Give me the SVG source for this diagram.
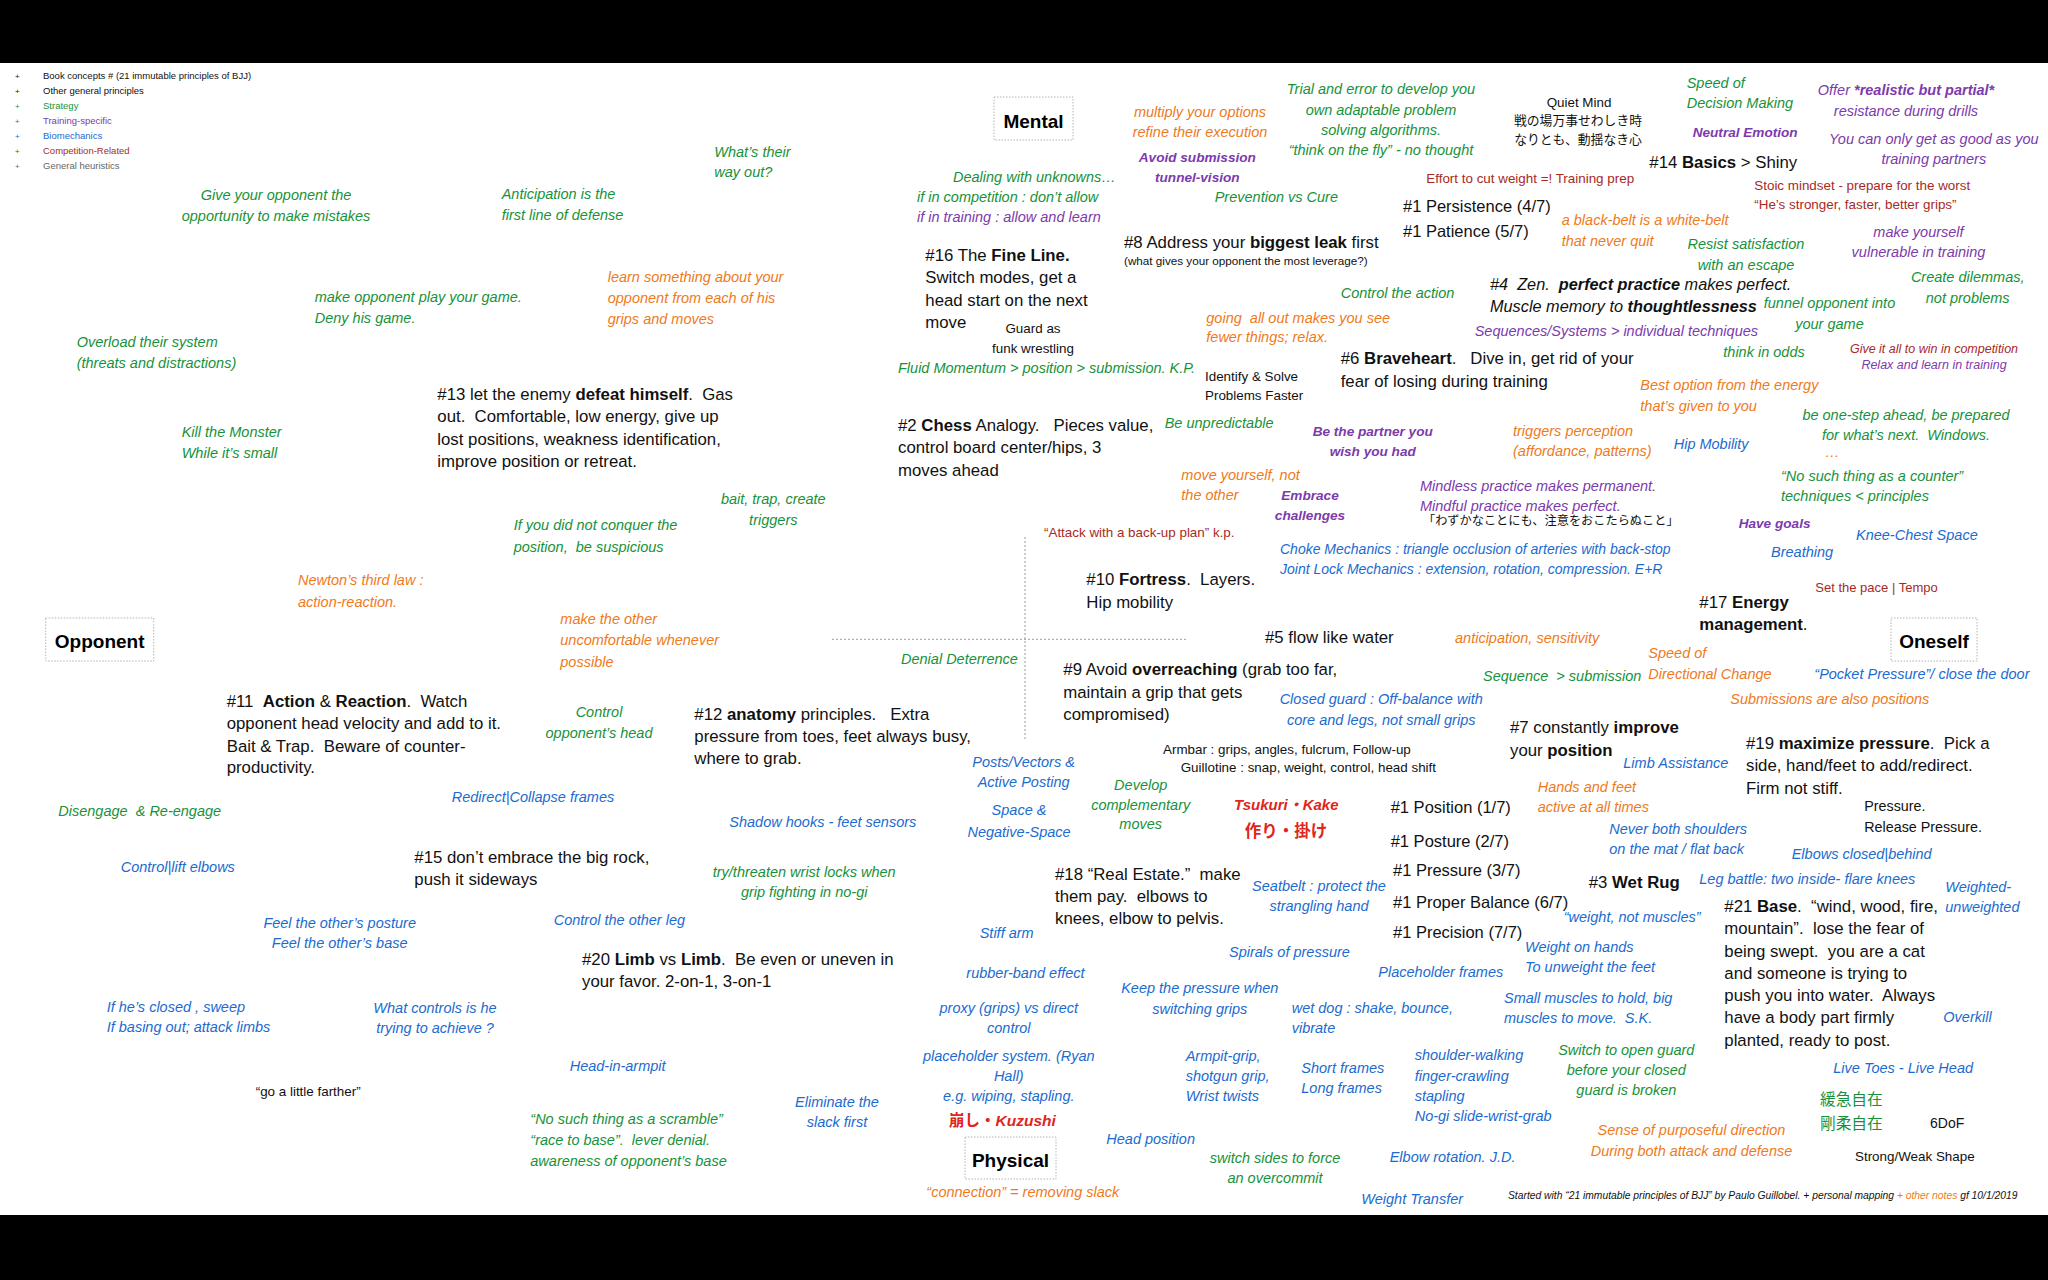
<svg xmlns="http://www.w3.org/2000/svg" width="2048" height="1280" viewBox="0 0 2048 1280">
<style>
text{font-family:"Liberation Sans",Arial,"Noto Sans CJK JP",sans-serif}
.m{font-size:16.8px;fill:#111}
.n{font-size:14.5px;font-style:italic}
.s{font-size:13.4px;fill:#111}
.bi{font-size:13.6px;font-style:italic;font-weight:bold}
.b{font-weight:bold}
.c{text-anchor:middle}
.G{fill:#17923a}.O{fill:#ef7a1b}.P{fill:#7c3aad}.U{fill:#1b6bd0}.R{fill:#a82a1f}.K{fill:#111}.RR{fill:#e0251b}
.jp{font-family:"Noto Sans CJK JP",sans-serif}
.box{fill:#fff;stroke:#b4b4b4;stroke-width:1;stroke-dasharray:1.5 1.5}
.hd{font-size:19px;font-weight:bold;fill:#000;text-anchor:middle}
.ax{stroke:#9a9a9a;stroke-width:1;stroke-dasharray:2 2;fill:none}
.lg{font-size:9.5px}
.bl{font-size:8px}
</style>
<rect x="0" y="0" width="2048" height="1280" fill="#000"/>
<rect x="0" y="63" width="2048" height="1152" fill="#fff"/>

<g id="connectors">
<line class="ax" x1="832" y1="639.3" x2="1186" y2="639.3"/>
<line class="ax" x1="1025" y1="537" x2="1025" y2="740"/>
</g>

<g id="legend">
<text class="bl K" x="15" y="79">+</text><text class="lg K" x="43" y="79">Book concepts # (21 immutable principles of BJJ)</text>
<text class="bl K" x="15" y="94">+</text><text class="lg K" x="43" y="94">Other general principles</text>
<text class="bl G" x="15" y="109">+</text><text class="lg G" x="43" y="109">Strategy</text>
<text class="bl P" x="15" y="124">+</text><text class="lg P" x="43" y="124">Training-specific</text>
<text class="bl U" x="15" y="139">+</text><text class="lg U" x="43" y="139">Biomechanics</text>
<text class="bl R" x="15" y="154">+</text><text class="lg R" x="43" y="154">Competition-Related</text>
<text class="bl" x="15" y="169" fill="#666">+</text><text class="lg" x="43" y="169" fill="#666">General heuristics</text>
</g>

<g id="mental"><rect class="box" x="994" y="97" width="79" height="43"/><text class="hd" x="1033.5" y="127.7">Mental</text></g>
<g id="opponent"><rect class="box" x="45.7" y="618" width="108" height="43"/><text class="hd" x="99.7" y="648">Opponent</text></g>
<g id="oneself"><rect class="box" x="1891" y="618" width="86" height="43"/><text class="hd" x="1934" y="648">Oneself</text></g>
<g id="physical"><rect class="box" x="965" y="1137" width="91" height="42"/><text class="hd" x="1010.5" y="1167">Physical</text></g>

<g id="what-way-out"><text class="n G"><tspan x="714.3" y="156.7">What’s their</tspan><tspan x="714.3" y="177.3">way out?</tspan></text></g>
<g id="anticipation"><text class="n G"><tspan x="501.7" y="199.3">Anticipation is the</tspan><tspan x="501.7" y="220">first line of defense</tspan></text></g>
<g id="give-opportunity"><text class="n G c"><tspan x="276" y="200">Give your opponent the</tspan><tspan x="276" y="220.7">opportunity to make mistakes</tspan></text></g>
<g id="make-opponent-play"><text class="n G"><tspan x="314.7" y="302">make opponent play your game.</tspan><tspan x="314.7" y="323">Deny his game.</tspan></text></g>
<g id="learn-something"><text class="n O"><tspan x="607.7" y="281.7">learn something about your</tspan><tspan x="607.7" y="302.7">opponent from each of his</tspan><tspan x="607.7" y="324.3">grips and moves</tspan></text></g>
<g id="overload"><text class="n G"><tspan x="76.7" y="347.3">Overload their system</tspan><tspan x="76.7" y="368.3">(threats and distractions)</tspan></text></g>
<g id="kill-monster"><text class="n G"><tspan x="181.7" y="436.7">Kill the Monster</tspan><tspan x="181.7" y="458.3">While it’s small</tspan></text></g>
<g id="p13"><text class="m"><tspan x="437.3" y="400">#13 let the enemy <tspan class="b">defeat himself</tspan>.&#160; Gas</tspan><tspan x="437.3" y="422.3">out.&#160; Comfortable, low energy, give up</tspan><tspan x="437.3" y="444.6">lost positions, weakness identification,</tspan><tspan x="437.3" y="467">improve position or retreat.</tspan></text></g>
<g id="dealing-unknowns"><text class="n"><tspan class="G" x="953" y="181.7">Dealing with unknowns…</tspan><tspan class="G" x="917" y="201.7">if in competition : don’t allow</tspan><tspan class="P" x="917" y="222.3">if in training : allow and learn</tspan></text></g>
<g id="p16"><text class="m"><tspan x="925.3" y="260.7">#16 The <tspan class="b">Fine Line.</tspan></tspan><tspan x="925.3" y="283.3">Switch modes, get a</tspan><tspan x="925.3" y="305.7">head start on the next</tspan><tspan x="925.3" y="327.7">move</tspan></text></g>
<g id="guard-funk"><text class="s c"><tspan x="1033" y="333.3">Guard as</tspan><tspan x="1033" y="352.7">funk wrestling</tspan></text></g>
<g id="fluid-momentum"><text class="n G" x="898" y="373.3">Fluid Momentum &gt; position &gt; submission. K.P.</text></g>
<g id="p2"><text class="m"><tspan x="898" y="430.7">#2 <tspan class="b">Chess</tspan> Analogy.&#160;&#160; Pieces value,</tspan><tspan x="898" y="453.3">control board center/hips, 3</tspan><tspan x="898" y="475.7">moves ahead</tspan></text></g>
<g id="multiply-options"><text class="n O c"><tspan x="1200" y="116.7">multiply your options</tspan><tspan x="1200" y="136.7">refine their execution</tspan></text></g>
<g id="avoid-submission"><text class="bi P c"><tspan x="1197.3" y="161.7">Avoid submission</tspan><tspan x="1197.3" y="182.3">tunnel-vision</tspan></text></g>
<g id="trial-error"><text class="n G c"><tspan x="1381" y="94.3">Trial and error to develop you</tspan><tspan x="1381" y="115">own adaptable problem</tspan><tspan x="1381" y="135">solving algorithms.</tspan><tspan x="1381" y="155">“think on the fly” - no thought</tspan></text></g>
<g id="prevention"><text class="n G" x="1214.7" y="202.3">Prevention vs Cure</text></g>
<g id="quiet-mind"><text class="s c" x="1579" y="106.7">Quiet Mind</text><text class="jp K c" font-size="12.8"><tspan x="1578" y="125">戦の場万事せわしき時</tspan><tspan x="1578" y="144.3">なりとも、動揺なき心</tspan></text></g>
<g id="effort-weight"><text class="s R" x="1426.3" y="183.3">Effort to cut weight =! Training prep</text></g>
<g id="persistence-patience"><text class="K" font-size="16.5"><tspan x="1403" y="211.7">#1 Persistence (4/7)</tspan><tspan x="1403" y="236.7">#1 Patience (5/7)</tspan></text></g>
<g id="p8"><text class="m" x="1124" y="248.3">#8 Address your <tspan class="b">biggest leak</tspan> first</text><text class="K" font-size="11.7" x="1124" y="265">(what gives your opponent the most leverage?)</text></g>
<g id="control-action"><text class="n G" x="1340.7" y="298.3">Control the action</text></g>
<g id="going-all-out"><text class="n O"><tspan x="1206.3" y="322.7">going&#160; all out makes you see</tspan><tspan x="1206.3" y="342.3">fewer things; relax.</tspan></text></g>
<g id="identify-solve"><text class="s"><tspan x="1205" y="380.7">Identify &amp; Solve</tspan><tspan x="1205" y="400">Problems Faster</tspan></text></g>
<g id="p6"><text class="m"><tspan x="1340.7" y="364">#6 <tspan class="b">Braveheart</tspan>.&#160;&#160; Dive in, get rid of your</tspan><tspan x="1340.7" y="387.3">fear of losing during training</tspan></text></g>
<g id="p4"><text class="K" font-size="16.3" font-style="italic"><tspan x="1490" y="290">#4&#160; Zen.&#160; <tspan class="b">perfect practice</tspan> makes perfect.</tspan><tspan x="1490" y="312.3">Muscle memory to <tspan class="b">thoughtlessness</tspan></tspan></text></g>
<g id="sequences-systems"><text class="n P" x="1474.7" y="336">Sequences/Systems &gt; individual techniques</text></g>
<g id="be-unpredictable"><text class="n G" x="1164.7" y="427.7">Be unpredictable</text></g>
<g id="be-partner"><text class="bi P c"><tspan x="1372.7" y="436">Be the partner you</tspan><tspan x="1372.7" y="456">wish you had</tspan></text></g>
<g id="triggers-perception"><text class="n O"><tspan x="1513" y="436">triggers perception</tspan><tspan x="1513" y="456">(affordance, patterns)</tspan></text></g>
<g id="speed-decision"><text class="n G"><tspan x="1686.7" y="88.3">Speed of</tspan><tspan x="1686.7" y="108.3">Decision Making</tspan></text></g>
<g id="neutral-emotion"><text class="bi P" x="1692.7" y="136.7">Neutral Emotion</text></g>
<g id="offer-resistance"><text class="n P c"><tspan x="1906" y="95">Offer <tspan class="b">*realistic but partial*</tspan></tspan><tspan x="1906" y="116">resistance during drills</tspan></text></g>
<g id="good-as-partners"><text class="n P c"><tspan x="1933.8" y="144.3">You can only get as good as you</tspan><tspan x="1933.8" y="164.3">training partners</tspan></text></g>
<g id="p14"><text class="m" x="1649.3" y="168.3">#14 <tspan class="b">Basics</tspan> &gt; Shiny</text></g>
<g id="stoic"><text class="s R"><tspan x="1754.3" y="190">Stoic mindset - prepare for the worst</tspan><tspan x="1754.3" y="209">“He’s stronger, faster, better grips”</tspan></text></g>
<g id="black-belt"><text class="n O"><tspan x="1561.7" y="225">a black-belt is a white-belt</tspan><tspan x="1561.7" y="245.7">that never quit</tspan></text></g>
<g id="resist-satisfaction"><text class="n G c"><tspan x="1746" y="249.3">Resist satisfaction</tspan><tspan x="1746" y="270">with an escape</tspan></text></g>
<g id="make-vulnerable"><text class="n P c"><tspan x="1918.5" y="236.7">make yourself</tspan><tspan x="1918.5" y="257.3">vulnerable in training</tspan></text></g>
<g id="create-dilemmas"><text class="n G c"><tspan x="1967.7" y="282.3">Create dilemmas,</tspan><tspan x="1967.7" y="302.7">not problems</tspan></text></g>
<g id="funnel"><text class="n G c"><tspan x="1829.5" y="308.3">funnel opponent into</tspan><tspan x="1829.5" y="329.3">your game</tspan></text></g>
<g id="think-odds"><text class="n G" x="1723.3" y="356.7">think in odds</text></g>
<g id="give-it-all"><text class="c" font-size="12.5" font-style="italic"><tspan class="R" x="1934" y="352.7">Give it all to win in competition</tspan><tspan class="P" x="1934" y="369.3">Relax and learn in training</tspan></text></g>
<g id="best-option"><text class="n O"><tspan x="1640.3" y="390">Best option from the energy</tspan><tspan x="1640.3" y="410.7">that’s given to you</tspan></text></g>
<g id="one-step-ahead"><text class="n G c"><tspan x="1906" y="420">be one-step ahead, be prepared</tspan><tspan x="1906" y="440">for what’s next.&#160; Windows.</tspan></text><text class="n O" x="1825" y="457">…</text></g>
<g id="hip-mobility"><text class="n U" x="1673.7" y="449">Hip Mobility</text></g>
<g id="newton"><text class="n O"><tspan x="298" y="585">Newton’s third law :</tspan><tspan x="298" y="606.7">action-reaction.</tspan></text></g>
<g id="p11"><text class="m"><tspan x="226.7" y="706.7">#11&#160; <tspan class="b">Action</tspan> &amp; <tspan class="b">Reaction</tspan>.&#160; Watch</tspan><tspan x="226.7" y="729">opponent head velocity and add to it.</tspan><tspan x="226.7" y="751.7">Bait &amp; Trap.&#160; Beware of counter-</tspan><tspan x="226.7" y="773.3">productivity.</tspan></text></g>
<g id="disengage"><text class="n G" x="58.3" y="816">Disengage&#160; &amp; Re-engage</text></g>
<g id="redirect"><text class="n U" x="451.7" y="802.3">Redirect|Collapse frames</text></g>
<g id="if-not-conquer"><text class="n G"><tspan x="513.7" y="530">If you did not conquer the</tspan><tspan x="513.7" y="551.7">position,&#160; be suspicious</tspan></text></g>
<g id="bait-trap"><text class="n G c"><tspan x="773.3" y="504">bait, trap, create</tspan><tspan x="773.3" y="525">triggers</tspan></text></g>
<g id="make-uncomfortable"><text class="n O"><tspan x="560.3" y="624.3">make the other</tspan><tspan x="560.3" y="645">uncomfortable whenever</tspan><tspan x="560.3" y="666.7">possible</tspan></text></g>
<g id="denial"><text class="n G" x="901" y="664">Denial Deterrence</text></g>
<g id="control-head"><text class="n G c"><tspan x="599" y="717.3">Control</tspan><tspan x="599" y="737.7">opponent’s head</tspan></text></g>
<g id="p12"><text class="m"><tspan x="694.3" y="720">#12 <tspan class="b">anatomy</tspan> principles.&#160;&#160; Extra</tspan><tspan x="694.3" y="742.3">pressure from toes, feet always busy,</tspan><tspan x="694.3" y="764.3">where to grab.</tspan></text></g>
<g id="posts-vectors"><text class="n U c"><tspan x="1023.6" y="766.7">Posts/Vectors &amp;</tspan><tspan x="1023.6" y="786.7">Active Posting</tspan></text></g>
<g id="shadow-hooks"><text class="n U" x="729.3" y="826.7">Shadow hooks - feet sensors</text></g>
<g id="space-negative"><text class="n U c"><tspan x="1019" y="815">Space &amp;</tspan><tspan x="1019" y="836.7">Negative-Space</tspan></text></g>
<g id="move-yourself"><text class="n O"><tspan x="1181.3" y="480">move yourself, not</tspan><tspan x="1181.3" y="500">the other</tspan></text></g>
<g id="embrace"><text class="bi P c"><tspan x="1310" y="500">Embrace</tspan><tspan x="1310" y="520">challenges</tspan></text></g>
<g id="mindless-practice"><text class="n P"><tspan x="1420" y="490.7">Mindless practice makes permanent.</tspan><tspan x="1420" y="510.7">Mindful practice makes perfect.</tspan></text><text class="jp K" font-size="12.2" x="1423" y="525">「わずかなことにも、注意をおこたらぬこと」</text></g>
<g id="attack-backup"><text class="s R" x="1044" y="537.3">“Attack with a back-up plan” k.p.</text></g>
<g id="choke-mechanics"><text class="U" font-size="14" font-style="italic"><tspan x="1280" y="554">Choke Mechanics : triangle occlusion of arteries with back-stop</tspan><tspan x="1280" y="574">Joint Lock Mechanics : extension, rotation, compression. E+R</tspan></text></g>
<g id="p10"><text class="m"><tspan x="1086.3" y="585">#10 <tspan class="b">Fortress</tspan>.&#160; Layers.</tspan><tspan x="1086.3" y="607.7">Hip mobility</tspan></text></g>
<g id="p5"><text class="m" x="1265" y="643.3">#5 flow like water</text></g>
<g id="anticipation-sensitivity"><text class="n O" x="1455" y="643.3">anticipation, sensitivity</text></g>
<g id="p9"><text class="m"><tspan x="1063.3" y="675">#9 Avoid <tspan class="b">overreaching</tspan> (grab too far,</tspan><tspan x="1063.3" y="698.3">maintain a grip that gets</tspan><tspan x="1063.3" y="720">compromised)</tspan></text></g>
<g id="sequence-submission"><text class="n G" x="1483" y="680.7">Sequence&#160; &gt; submission</text></g>
<g id="closed-guard"><text class="n U c"><tspan x="1381.2" y="704">Closed guard : Off-balance with</tspan><tspan x="1381.2" y="725">core and legs, not small grips</tspan></text></g>
<g id="p7"><text class="m"><tspan x="1510" y="733.3">#7 constantly <tspan class="b">improve</tspan></tspan><tspan x="1510" y="756">your <tspan class="b">position</tspan></tspan></text></g>
<g id="armbar-guillotine"><text class="s"><tspan x="1163" y="754.3">Armbar : grips, angles, fulcrum, Follow-up</tspan><tspan x="1180.7" y="771.7">Guillotine : snap, weight, control, head shift</tspan></text></g>
<g id="develop-moves"><text class="n G c"><tspan x="1140.7" y="790">Develop</tspan><tspan x="1140.7" y="810">complementary</tspan><tspan x="1140.7" y="829">moves</tspan></text></g>
<g id="tsukuri-kake"><text class="RR c" font-size="15" font-weight="bold" font-style="italic" x="1286.3" y="810">Tsukuri・Kake</text><text class="jp RR c" font-size="16.5" font-weight="bold" x="1286" y="836.7">作り・掛け</text></g>
<g id="position-1"><text class="K" font-size="16.5" x="1390.7" y="812.7">#1 Position (1/7)</text></g>
<g id="no-counter"><text class="n G"><tspan x="1781" y="480.7">“No such thing as a counter”</tspan><tspan x="1781" y="501">techniques &lt; principles</tspan></text></g>
<g id="have-goals"><text class="bi P" x="1738.7" y="528.3">Have goals</text></g>
<g id="knee-chest"><text class="n U" x="1856" y="540">Knee-Chest Space</text></g>
<g id="breathing"><text class="n U" x="1771" y="556.7">Breathing</text></g>
<g id="set-pace"><text class="R" font-size="13" x="1815.3" y="591.7">Set the pace | Tempo</text></g>
<g id="p17"><text class="m"><tspan x="1699.3" y="608.3">#17 <tspan class="b">Energy</tspan></tspan><tspan class="b" x="1699.3" y="630">management</tspan><tspan>.</tspan></text></g>
<g id="speed-direction"><text class="n O"><tspan x="1648.3" y="658.3">Speed of</tspan><tspan x="1648.3" y="679">Directional Change</tspan></text></g>
<g id="pocket-pressure"><text class="n U" x="1814.3" y="679.3">“Pocket Pressure”/ close the door</text></g>
<g id="submissions-positions"><text class="n O" x="1730.3" y="704.3">Submissions are also positions</text></g>
<g id="p19"><text class="m"><tspan x="1746" y="749.3">#19 <tspan class="b">maximize pressure</tspan>.&#160; Pick a</tspan><tspan x="1746" y="771">side, hand/feet to add/redirect.</tspan><tspan x="1746" y="794">Firm not stiff.</tspan></text></g>
<g id="limb-assistance"><text class="n U" x="1623.3" y="768.3">Limb Assistance</text></g>
<g id="hands-feet"><text class="n O"><tspan x="1537.7" y="791.7">Hands and feet</tspan><tspan x="1537.7" y="812.3">active at all times</tspan></text></g>
<g id="pressure-release"><text class="K" font-size="14.3"><tspan x="1864.3" y="810.7">Pressure.</tspan><tspan x="1864.3" y="831.7">Release Pressure.</tspan></text></g>
<g id="control-lift-elbows"><text class="n U" x="120.7" y="871.7">Control|lift elbows</text></g>
<g id="feel-posture"><text class="n U c"><tspan x="339.7" y="928.3">Feel the other’s posture</tspan><tspan x="339.7" y="948.3">Feel the other’s base</tspan></text></g>
<g id="if-closed"><text class="n U"><tspan x="106.7" y="1011.7">If he’s closed , sweep</tspan><tspan x="106.7" y="1031.7">If basing out; attack limbs</tspan></text></g>
<g id="what-controls"><text class="n U c"><tspan x="435" y="1013.3">What controls is he</tspan><tspan x="435" y="1033.3">trying to achieve ?</tspan></text></g>
<g id="go-farther"><text class="s" x="255.7" y="1096">“go a little farther”</text></g>
<g id="p15"><text class="m"><tspan x="414.3" y="862.7">#15 don’t embrace the big rock,</tspan><tspan x="414.3" y="885">push it sideways</tspan></text></g>
<g id="wrist-locks"><text class="n G c"><tspan x="804.2" y="876.7">try/threaten wrist locks when</tspan><tspan x="804.2" y="897.3">grip fighting in no-gi</tspan></text></g>
<g id="control-other-leg"><text class="n U" x="553.7" y="925">Control the other leg</text></g>
<g id="p20"><text class="m"><tspan x="582" y="965">#20 <tspan class="b">Limb</tspan> vs <tspan class="b">Limb</tspan>.&#160; Be even or uneven in</tspan><tspan x="582" y="987.3">your favor. 2-on-1, 3-on-1</tspan></text></g>
<g id="head-armpit"><text class="n U" x="569.7" y="1070.7">Head-in-armpit</text></g>
<g id="eliminate-slack"><text class="n U c"><tspan x="837" y="1106.7">Eliminate the</tspan><tspan x="837" y="1127.3">slack first</tspan></text></g>
<g id="no-scramble"><text class="n G"><tspan x="530.3" y="1124.3">“No such thing as a scramble”</tspan><tspan x="530.3" y="1145">“race to base”.&#160; lever denial.</tspan><tspan x="530.3" y="1165.7">awareness of opponent’s base</tspan></text></g>
<g id="stiff-arm"><text class="n U" x="979.7" y="938.3">Stiff arm</text></g>
<g id="rubber-band"><text class="n U" x="966.3" y="977.7">rubber-band effect</text></g>
<g id="proxy-grips"><text class="n U c"><tspan x="1008.8" y="1013.3">proxy (grips) vs direct</tspan><tspan x="1008.8" y="1033.3">control</tspan></text></g>
<g id="placeholder-system"><text class="n U c"><tspan x="1008.8" y="1060.7">placeholder system. (Ryan</tspan><tspan x="1008.8" y="1081">Hall)</tspan><tspan x="1008.8" y="1101">e.g. wiping, stapling.</tspan></text></g>
<g id="kuzushi"><text class="RR c" font-size="15.5" font-weight="bold" x="1002.5" y="1126"><tspan class="jp">崩し・</tspan><tspan font-style="italic">Kuzushi</tspan></text></g>
<g id="connection"><text class="n O" x="926.3" y="1197.3">“connection” = removing slack</text></g>
<g id="p18"><text class="m"><tspan x="1055" y="880">#18 “Real Estate.”&#160; make</tspan><tspan x="1055" y="902.3">them pay.&#160; elbows to</tspan><tspan x="1055" y="924.3">knees, elbow to pelvis.</tspan></text></g>
<g id="seatbelt"><text class="n U c"><tspan x="1319" y="890.7">Seatbelt : protect the</tspan><tspan x="1319" y="910.7">strangling hand</tspan></text></g>
<g id="posture-2"><text class="K" font-size="16.5" x="1390.7" y="846.7">#1 Posture (2/7)</text></g>
<g id="pressure-3"><text class="K" font-size="16.5" x="1393" y="876">#1 Pressure (3/7)</text></g>
<g id="balance-6"><text class="K" font-size="16.5" x="1393" y="908.3">#1 Proper Balance (6/7)</text></g>
<g id="precision-7"><text class="K" font-size="16.5" x="1393" y="938.3">#1 Precision (7/7)</text></g>
<g id="spirals"><text class="n U" x="1229" y="957.3">Spirals of pressure</text></g>
<g id="placeholder-frames"><text class="n U" x="1378.3" y="977.3">Placeholder frames</text></g>
<g id="keep-pressure"><text class="n U c"><tspan x="1199.8" y="993.3">Keep the pressure when</tspan><tspan x="1199.8" y="1014">switching grips</tspan></text></g>
<g id="wet-dog"><text class="n U"><tspan x="1291.7" y="1013.3">wet dog : shake, bounce,</tspan><tspan x="1291.7" y="1033.3">vibrate</tspan></text></g>
<g id="armpit-grip"><text class="n U"><tspan x="1185.7" y="1060.7">Armpit-grip,</tspan><tspan x="1185.7" y="1081">shotgun grip,</tspan><tspan x="1185.7" y="1101">Wrist twists</tspan></text></g>
<g id="short-frames"><text class="n U"><tspan x="1301.3" y="1073.3">Short frames</tspan><tspan x="1301.3" y="1093.3">Long frames</tspan></text></g>
<g id="shoulder-walking"><text class="n U"><tspan x="1414.7" y="1060">shoulder-walking</tspan><tspan x="1414.7" y="1080.7">finger-crawling</tspan><tspan x="1414.7" y="1100.7">stapling</tspan><tspan x="1414.7" y="1120.7">No-gi slide-wrist-grab</tspan></text></g>
<g id="head-position"><text class="n U" x="1106.3" y="1144">Head position</text></g>
<g id="switch-sides"><text class="n G c"><tspan x="1275" y="1163.3">switch sides to force</tspan><tspan x="1275" y="1183.3">an overcommit</tspan></text></g>
<g id="elbow-rotation"><text class="n U" x="1389.7" y="1161.7">Elbow rotation. J.D.</text></g>
<g id="weight-transfer"><text class="n U" x="1361.3" y="1204">Weight Transfer</text></g>
<g id="footer"><text class="K" font-size="10.3" font-style="italic" x="1508" y="1199">Started with “21 immutable principles of BJJ” by Paulo Guillobel. + personal mapping <tspan class="O">+ other notes</tspan> gf 10/1/2019</text></g>
<g id="never-both-shoulders"><text class="n U"><tspan x="1609.3" y="834">Never both shoulders</tspan><tspan x="1609.3" y="854.3">on the mat / flat back</tspan></text></g>
<g id="elbows-closed"><text class="n U" x="1791.7" y="859">Elbows closed|behind</text></g>
<g id="p3"><text class="m" x="1588.7" y="888.3">#3 <tspan class="b">Wet Rug</tspan></text></g>
<g id="leg-battle"><text class="n U" x="1699.3" y="884">Leg battle: two inside- flare knees</text></g>
<g id="weighted"><text class="n U"><tspan x="1945.3" y="891.7">Weighted-</tspan><tspan x="1945.3" y="912.3">unweighted</tspan></text></g>
<g id="weight-not-muscles"><text class="n U" x="1563.7" y="922.3">“weight, not muscles”</text></g>
<g id="p21"><text class="m"><tspan x="1724.3" y="911.7">#21 <tspan class="b">Base</tspan>.&#160; “wind, wood, fire,</tspan><tspan x="1724.3" y="934.3">mountain”.&#160; lose the fear of</tspan><tspan x="1724.3" y="956.7">being swept.&#160; you are a cat</tspan><tspan x="1724.3" y="979">and someone is trying to</tspan><tspan x="1724.3" y="1001">push you into water.&#160; Always</tspan><tspan x="1724.3" y="1023.3">have a body part firmly</tspan><tspan x="1724.3" y="1045.7">planted, ready to post.</tspan></text></g>
<g id="weight-on-hands"><text class="n U"><tspan x="1525" y="951.7">Weight on hands</tspan><tspan x="1525" y="972.3">To unweight the feet</tspan></text></g>
<g id="small-muscles"><text class="n U"><tspan x="1504" y="1002.7">Small muscles to hold, big</tspan><tspan x="1504" y="1023.3">muscles to move.&#160; S.K.</tspan></text></g>
<g id="overkill"><text class="n U" x="1943.3" y="1021.7">Overkill</text></g>
<g id="switch-open-guard"><text class="n G c"><tspan x="1626.3" y="1055">Switch to open guard</tspan><tspan x="1626.3" y="1075">before your closed</tspan><tspan x="1626.3" y="1095">guard is broken</tspan></text></g>
<g id="live-toes"><text class="n U" x="1833.3" y="1073.3">Live Toes - Live Head</text></g>
<g id="kanji-jizai"><text class="jp G" font-size="15.7"><tspan x="1820" y="1105">緩急自在</tspan><tspan x="1820" y="1129.3">剛柔自在</tspan></text></g>
<g id="six-dof"><text class="K" font-size="14" x="1930" y="1127.7">6DoF</text></g>
<g id="purposeful-direction"><text class="n O c"><tspan x="1691.5" y="1135">Sense of purposeful direction</tspan><tspan x="1691.5" y="1155.7">During both attack and defense</tspan></text></g>
<g id="strong-weak"><text class="s" x="1855" y="1160.7">Strong/Weak Shape</text></g>
</svg>
